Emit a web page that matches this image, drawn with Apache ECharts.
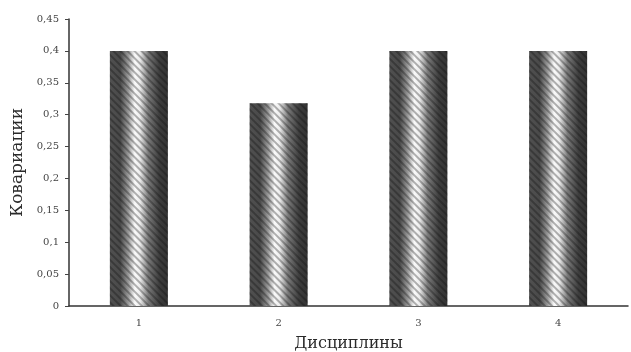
<!DOCTYPE html>
<html>
<head>
<meta charset="utf-8">
<script src="https://cdn.jsdelivr.net/npm/echarts@6/dist/echarts.min.js"></script>
<style>
  html, body { margin: 0; padding: 0; background: #fff; }
  #chart { width: 631px; height: 352px; }
</style>
</head>
<body>
<div id="chart"></div>
<script>
// Covariance per discipline
const disciplines = ['1', '2', '3', '4'];
const covariance = [0.4, 0.318, 0.4, 0.4];
const yTicks = { min: 0, max: 0.45, interval: 0.05 };

const serif = '"DejaVu Serif", "Liberation Serif", serif';

// cylinder-like shading across the bar: dark edges, bright band left of centre
const barFill = new echarts.graphic.LinearGradient(0, 0, 1, 0, [
  { offset: 0.00, color: '#505050' },
  { offset: 0.18, color: '#4a4a4a' },
  { offset: 0.32, color: '#9a9a9a' },
  { offset: 0.43, color: '#fafafa' },
  { offset: 0.52, color: '#ececec' },
  { offset: 0.66, color: '#7a7a7a' },
  { offset: 0.85, color: '#3e3e3e' },
  { offset: 1.00, color: '#333333' }
]);

const chart = echarts.init(document.getElementById('chart'), null, { renderer: 'canvas' });
chart.setOption({
  animation: false,
  backgroundColor: '#fff',
  grid: { left: 69, right: 3, top: 19, bottom: 46, containLabel: false, outerBoundsMode: 'none' },
  xAxis: {
    type: 'category',
    data: disciplines,
    name: 'Дисциплины',
    nameLocation: 'middle',
    nameGap: 30,
    nameTextStyle: { fontFamily: serif, fontSize: 16, color: '#2a2a2a' },
    axisLine: { lineStyle: { color: '#333', width: 1.5 } },
    axisTick: { show: false },
    axisLabel: { fontFamily: serif, fontSize: 10, color: '#444', margin: 12 }
  },
  yAxis: {
    type: 'value',
    min: yTicks.min,
    max: yTicks.max,
    interval: yTicks.interval,
    name: 'Ковариации',
    nameLocation: 'middle',
    nameGap: 41,
    nameTextStyle: { fontFamily: serif, fontSize: 17, color: '#2a2a2a' },
    axisLine: { show: true, lineStyle: { color: '#333', width: 1.5 } },
    axisTick: { show: true, length: 4, lineStyle: { color: '#444' } },
    splitLine: { show: false },
    axisLabel: {
      fontFamily: serif, fontSize: 10, color: '#444', margin: 10,
      formatter: v => String(Math.round(v * 100) / 100).replace('.', ',')
    }
  },
  series: [{
    type: 'bar',
    data: covariance,
    barWidth: 58,
    itemStyle: {
      color: barFill,
      decal: {
        symbol: 'rect',
        symbolSize: 1,
        color: 'rgba(10,10,10,0.3)',
        dashArrayX: [1, 0],
        dashArrayY: [2, 3],
        rotation: Math.PI / 4
      }
    }
  }]
});
</script>
</body>
</html>
